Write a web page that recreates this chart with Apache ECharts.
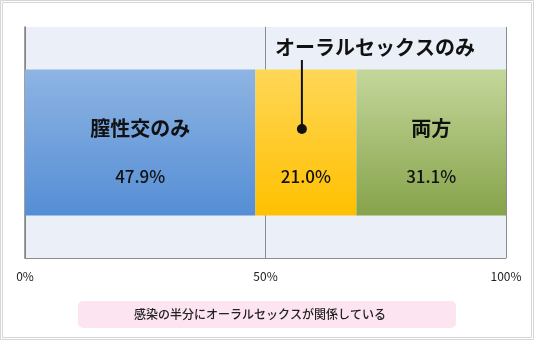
<!DOCTYPE html>
<html>
<head>
    <meta charset="utf-8">
    <title>感染経路</title>
    <script src="https://cdn.jsdelivr.net/npm/echarts@6/dist/echarts.min.js"></script>
    <style>
        html, body { margin: 0; padding: 0; background: #fff; }
        #main { width: 534px; height: 340px; }
    </style>
</head>
<body>
    <div id="main"></div>
    <script type="text/javascript">
        // データ
        var segNames = ['膣性交のみ', 'オーラルセックスのみ', '両方'];
        var segValues = [47.9, 21.0, 31.1];
        var insideNames = ['膣性交のみ', '', '両方'];
        var tickValues = [0, 50, 100];
        var noteText = '感染の半分にオーラルセックスが関係している';

        var font = 'Noto Sans CJK JP';
        var grads = [
            ['#8eb4e3', '#558ed5'],
            ['#ffd757', '#ffc000'],
            ['#c4d79b', '#86a34a']
        ];

        var myChart = echarts.init(document.getElementById('main'));

        var series = segValues.map(function (v, i) {
            return {
                name: segNames[i],
                type: 'bar',
                stack: 'all',
                barWidth: 146,
                itemStyle: {
                    color: new echarts.graphic.LinearGradient(0, 0, 0, 1, [
                        { offset: 0, color: grads[i][0] },
                        { offset: 1, color: grads[i][1] }
                    ])
                },
                label: {
                    show: true,
                    position: 'inside',
                    offset: [0, 10],
                    formatter: '{n|' + (insideNames[i] || ' ') + '}\n{v|' + v.toFixed(1) + '%}',
                    rich: {
                        n: { fontFamily: font, fontSize: 20, fontWeight: 'bold', color: '#111', lineHeight: 49, height: 49 },
                        v: { fontFamily: font, fontSize: 17, fontWeight: 500, color: '#111', lineHeight: 49, height: 49 }
                    }
                },
                emphasis: { disabled: true },
                data: [v]
            };
        });

        var option = {
            animation: false,
            grid: {
                left: 25, top: 27, width: 481, height: 231,
                show: true,
                backgroundColor: '#ebf0f8',
                borderWidth: 0
            },
            xAxis: {
                type: 'value',
                min: tickValues[0],
                max: tickValues[tickValues.length - 1],
                interval: tickValues[1] - tickValues[0],
                axisLine: { show: true, lineStyle: { color: '#8c8c8c', width: 1 } },
                axisTick: { show: false },
                splitLine: { show: true, lineStyle: { color: '#8c8c8c', width: 1 } },
                axisLabel: {
                    formatter: '{value}%',
                    fontFamily: font,
                    fontSize: 12,
                    color: '#222',
                    margin: 12
                }
            },
            yAxis: {
                type: 'category',
                data: [''],
                axisLine: { show: true, lineStyle: { color: '#808080', width: 1.5 } },
                axisTick: { show: false },
                axisLabel: { show: false }
            },
            series: series
        };
        myChart.setOption(option);

        // 吹き出し（オーラルセックスのみ）
        var midX = myChart.convertToPixel({ xAxisIndex: 0 }, segValues[0] + segValues[1] / 2) - 4;
        var dotY = 129;

        myChart.setOption({
            graphic: [
                { type: 'rect', shape: { x: 0.5, y: 0.5, width: 533, height: 339 }, style: { fill: null, stroke: '#d6d6d6', lineWidth: 1 }, silent: true },
                { type: 'rect', shape: { x: 2.5, y: 2.5, width: 529, height: 335 }, style: { fill: null, stroke: '#d6d6d6', lineWidth: 1 }, silent: true },
                { type: 'line', shape: { x1: midX, y1: 60, x2: midX, y2: dotY }, style: { stroke: '#111', lineWidth: 2 }, z: 100 },
                { type: 'circle', shape: { cx: midX, cy: dotY, r: 5 }, style: { fill: '#111' }, z: 100 },
                {
                    type: 'text', x: 375, y: 47, z: 100,
                    style: {
                        text: segNames[1], fontFamily: font, fontSize: 20, fontWeight: 'bold',
                        fill: '#111', align: 'center', verticalAlign: 'middle'
                    }
                },
                { type: 'rect', shape: { x: 78, y: 301, width: 378, height: 27, r: 5 }, style: { fill: '#fce4f0' } },
                {
                    type: 'text', x: 260, y: 314.5,
                    style: {
                        text: noteText, fontFamily: font, fontSize: 12, fontWeight: 500,
                        fill: '#222', align: 'center', verticalAlign: 'middle'
                    }
                }
            ]
        });
    </script>
</body>
</html>
